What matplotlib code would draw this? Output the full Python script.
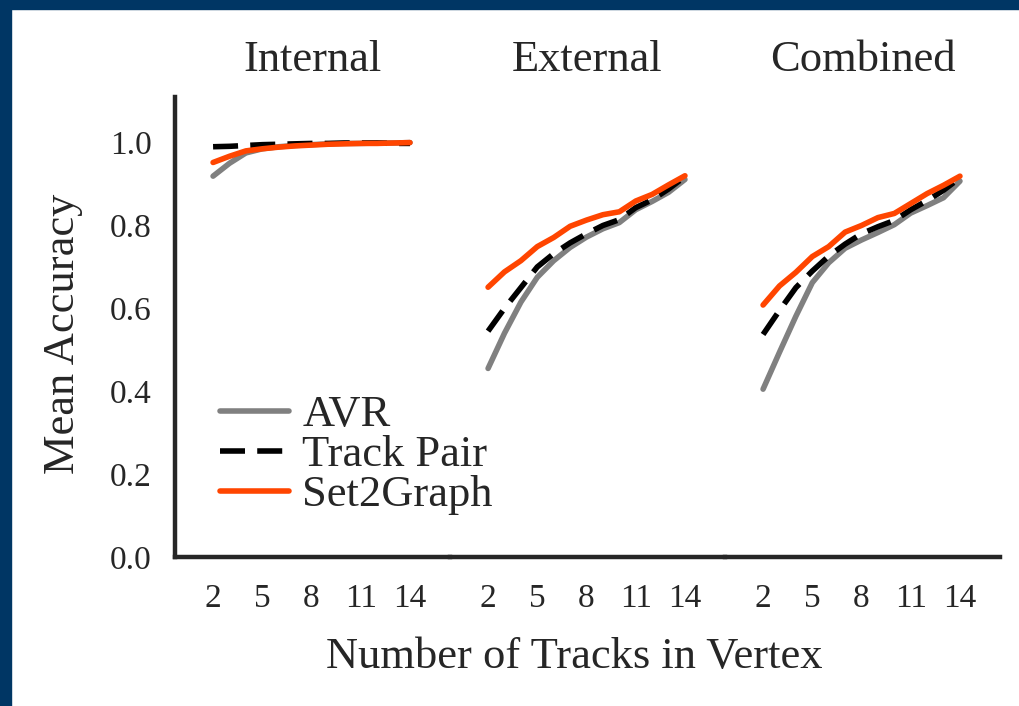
import matplotlib
matplotlib.use("Agg")
import matplotlib.pyplot as plt
import matplotlib.patches as patches

plt.rcParams['font.family'] = ['Liberation Serif', 'DejaVu Serif']

# Accuracy per vertex size, one list per method and category
tracks = [2, 3, 4, 5, 6, 7, 8, 9, 10, 11, 12, 13, 14]
tick_values = [2, 5, 8, 11, 14]
panels = ["Internal", "External", "Combined"]

avr_internal = [0.919, 0.950, 0.975, 0.985, 0.990, 0.993, 0.995, 0.997, 0.998, 0.998, 0.999, 0.999, 1.000]
pair_internal = [0.990, 0.991, 0.993, 0.995, 0.996, 0.997, 0.998, 0.998, 0.999, 0.999, 0.999, 0.998, 0.998]
s2g_internal = [0.952, 0.967, 0.980, 0.985, 0.989, 0.992, 0.994, 0.996, 0.997, 0.998, 0.998, 0.999, 1.000]

avr_external = [0.455, 0.540, 0.615, 0.675, 0.715, 0.747, 0.772, 0.792, 0.807, 0.838, 0.858, 0.880, 0.911]
pair_external = [0.545, 0.600, 0.650, 0.700, 0.732, 0.758, 0.780, 0.800, 0.814, 0.843, 0.862, 0.888, 0.918]
s2g_external = [0.651, 0.688, 0.715, 0.749, 0.771, 0.798, 0.813, 0.826, 0.833, 0.859, 0.875, 0.898, 0.920]

avr_combined = [0.405, 0.494, 0.581, 0.662, 0.710, 0.745, 0.765, 0.783, 0.802, 0.830, 0.848, 0.867, 0.907]
pair_combined = [0.537, 0.595, 0.650, 0.690, 0.726, 0.755, 0.780, 0.797, 0.812, 0.838, 0.860, 0.885, 0.915]
s2g_combined = [0.608, 0.654, 0.687, 0.725, 0.749, 0.784, 0.800, 0.819, 0.829, 0.853, 0.877, 0.897, 0.919]

avr = [avr_internal, avr_external, avr_combined]
pair = [pair_internal, pair_external, pair_combined]
s2g = [s2g_internal, s2g_external, s2g_combined]

fig = plt.figure(figsize=(10.2, 7.06), dpi=100)
fig.patch.set_facecolor("white")

# navy frame on the top and left edges
navy = "#003664"
fig.add_artist(patches.Rectangle((0, 1 - 9 / 706), 1, 9 / 706, transform=fig.transFigure, color=navy, zorder=0))
fig.add_artist(patches.Rectangle((0, 0), 11 / 1020, 1, transform=fig.transFigure, color=navy, zorder=0))

left, right = 175 / 1020, 1000 / 1020
bottom, top = 1 - 557 / 706, 1 - 97 / 706
w = (right - left) / 3

axes = []
for i, name in enumerate(panels):
    ax = fig.add_axes([left + i * w, bottom, w, top - bottom])
    axes.append(ax)
    ax.plot(tracks, avr[i], color="#808080", lw=4, solid_capstyle="round", label="AVR")
    ax.plot(tracks, pair[i], color="black", lw=4, dashes=(4.5, 2.2), label="Track Pair")
    ax.plot(tracks, s2g[i], color="#ff4500", lw=4, solid_capstyle="round", label="Set2Graph")
    ax.set_xlim(-0.32, 16.44)
    ax.set_ylim(0, 1.11)
    ax.set_xticks(tick_values)
    ax.set_title(name, fontsize=32, pad=19, color="#262626")
    ax.tick_params(axis="x", length=0, pad=19, labelsize=24, colors="#262626")
    ax.tick_params(axis="y", length=0, pad=17, labelsize=24, colors="#262626")
    for s in ["top", "right"]:
        ax.spines[s].set_visible(False)
    ax.spines["bottom"].set_linewidth(3.2)
    ax.spines["bottom"].set_color("#262626")
    if i == 0:
        ax.spines["left"].set_linewidth(3.2)
        ax.spines["left"].set_color("#262626")
        ax.set_yticks([0.0, 0.2, 0.4, 0.6, 0.8, 1.0])
        ax.set_ylabel("Mean Accuracy", fontsize=32, color="#262626")
        ax.yaxis.set_label_coords(-0.335, 0.485)
    else:
        ax.spines["left"].set_visible(False)
        ax.set_yticks([])
    ax.patch.set_alpha(0)

leg = axes[0].legend(loc="lower left", bbox_to_anchor=(0.1, 0.052), fontsize=32, frameon=False,
                     handlelength=1.55, handletextpad=0.3, labelspacing=0.0, borderaxespad=0)
for t in leg.get_texts():
    t.set_color("#262626")

fig.text(574 / 1020, 1 - 657 / 706, "Number of Tracks in Vertex", fontsize=32,
         ha="center", va="center", color="#262626")

plt.savefig("out.png", dpi=100)
